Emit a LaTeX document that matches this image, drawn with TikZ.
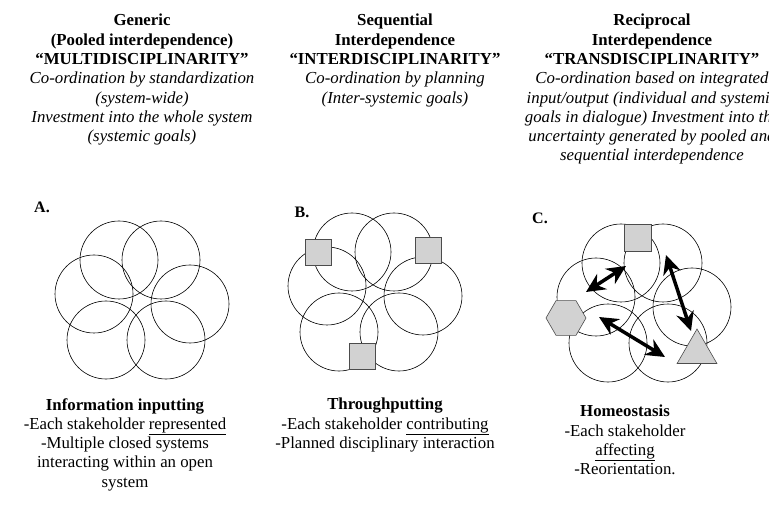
\documentclass[tikz,border=0pt]{standalone}
\usepackage{fontspec}
\setmainfont{Liberation Serif}
\usetikzlibrary{shapes.geometric,arrows.meta}
\tikzset{
  ring/.style={draw,line width=0.6pt},
  tag/.style={draw=black!70,fill=gray!35,line width=0.6pt,inner sep=0pt},
  txt/.style={align=center,font=\fontsize{16.8}{19.3}\selectfont,inner sep=0pt},
  link/.style={{Stealth[length=19pt,width=18pt]}-{Stealth[length=19pt,width=18pt]},line width=3.5pt}
}
\begin{document}
\begin{tikzpicture}[x=1pt,y=-1pt]
  \useasboundingbox (0,0) rectangle (769,505);

  % Headers
  \node[txt,anchor=north] (hA) at (142,14) {\textbf{Generic}\\\textbf{(Pooled interdependence)}\\\textbf{``MULTIDISCIPLINARITY''}\\\textit{Co-ordination by standardization}\\\textit{(system-wide)}\\\textit{Investment into the whole system}\\\textit{(systemic goals)}};
  \node[txt,anchor=north] (hB) at (395,14) {\textbf{Sequential}\\\textbf{Interdependence}\\\textbf{``INTERDISCIPLINARITY''}\\\textit{Co-ordination by planning}\\\textit{(Inter-systemic goals)}};
  \node[txt,anchor=north] (hC) at (652,14) {\textbf{Reciprocal}\\\textbf{Interdependence}\\\textbf{``TRANSDISCIPLINARITY''}\\\textit{Co-ordination based on integrated}\\\textit{input/output (individual and systemic}\\\textit{goals in dialogue) Investment into the}\\\textit{uncertainty generated by pooled and}\\\textit{sequential interdependence}};

  % Panel letters
  \node[txt,font=\bfseries\fontsize{16}{18}\selectfont] (lA) at (42,207) {A.};
  \node[txt,font=\bfseries\fontsize{16}{18}\selectfont] (lB) at (302,212) {B.};
  \node[txt,font=\bfseries\fontsize{16}{18}\selectfont] (lC) at (540,218) {C.};

  % Circles
  \foreach \cx/\cy in {140/300, 373/292, 642/303} {
    \foreach \dx/\dy in {-21/-40, 21/-40, -46/-6, 50/4, -34/40, 26/40} {
      \draw[ring] (\cx+\dx,\cy+\dy) circle (39);
    }
  }

  % Contributions (B)
  \foreach \sx/\sy in {318/252, 428/250, 362/356} {
    \node[tag,minimum size=26pt] at (\sx,\sy) {};
  }

  % Affecting (C)
  \node[tag,minimum size=27pt] (sq) at (638,238) {};
  \node[tag,regular polygon,regular polygon sides=6,minimum size=40pt] (hex) at (566,318) {};
  \node[tag,regular polygon,regular polygon sides=3,minimum size=46pt] (tri) at (697,352) {};
  \coordinate (a1) at (586,292); \coordinate (a2) at (626,266);
  \coordinate (b1) at (666,255); \coordinate (b2) at (691,331);
  \coordinate (c1) at (599,317); \coordinate (c2) at (665,357);
  \draw[link] (a1) -- (a2);
  \draw[link] (b1) -- (b2);
  \draw[link] (c1) -- (c2);

  % Captions
  \node[txt,anchor=north] (cA) at (125,398) {\textbf{Information inputting}\\-Each stakeholder \underline{represented}\\-Multiple closed systems\\interacting within an open\\system};
  \node[txt,anchor=north] (cB) at (385,398) {\textbf{Throughputting}\\-Each stakeholder \underline{contributing}\\-Planned disciplinary interaction};
  \node[txt,anchor=north] (cC) at (625,405) {\textbf{Homeostasis}\\-Each stakeholder\\\underline{affecting}\\-Reorientation.};
\end{tikzpicture}
\end{document}
